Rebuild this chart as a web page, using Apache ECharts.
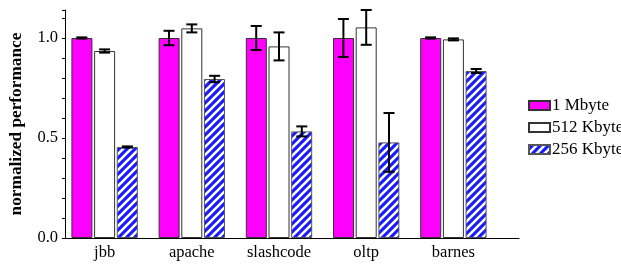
<!DOCTYPE html>
<html>
<head>
    <meta charset="utf-8">
    <title>normalized performance</title>
    <script src="https://cdn.jsdelivr.net/npm/echarts@6/dist/echarts.min.js"></script>
</head>
<body style="margin:0">
    <div id="main" style="width: 621px;height: 265px;"></div>
    <script type="text/javascript">
        // data
        var categories = ['jbb', 'apache', 'slashcode', 'oltp', 'barnes'];
        var seriesNames = ['1 Mbyte', '512 Kbyte', '256 Kbyte'];
        var mb1 = [1.0, 1.0, 1.0, 1.0, 1.0];
        var kb512 = [0.935, 1.048, 0.958, 1.053, 0.993];
        var kb256 = [0.455, 0.795, 0.533, 0.478, 0.835];
        var err1 = [0.003, 0.036, 0.06, 0.095, 0.003];
        var err512 = [0.008, 0.02, 0.07, 0.087, 0.005];
        var err256 = [0.003, 0.016, 0.025, 0.147, 0.01];
        var gridLines = [0.5, 1.0];

        var font = 'Liberation Serif';
        var barW = 21;
        var gapPx = 1.8;

        // diagonal stripe pattern for 256 Kbyte
        var tile = document.createElement('canvas');
        tile.width = 8; tile.height = 8;
        var g = tile.getContext('2d');
        g.fillStyle = '#1a1aff';
        g.fillRect(0, 0, 8, 8);
        g.strokeStyle = '#ffffff';
        g.lineWidth = 2.6;
        g.beginPath();
        g.moveTo(-2, 10); g.lineTo(10, -2);
        g.moveTo(-6, 6); g.lineTo(6, -6);
        g.moveTo(2, 14); g.lineTo(14, 2);
        g.stroke();
        var hatch = { image: tile, repeat: 'repeat' };

        var myChart = echarts.init(document.getElementById('main'));

        function errSeries(vals, errs, idx) {
            return {
                type: 'custom',
                xAxisIndex: 1, yAxisIndex: 1,
                z: 10,
                silent: true,
                data: vals.map(function (v, i) { return [i, v, errs[i]]; }),
                renderItem: function (params, api) {
                    var c = api.value(0), v = api.value(1), e = api.value(2);
                    var off = (idx - 1) * (barW + gapPx);
                    var hi = api.coord([c, v + e]);
                    var lo = api.coord([c, v - e]);
                    var x = hi[0] + off;
                    var cap = 5.5;
                    var st = { stroke: '#000', lineWidth: 2 };
                    return {
                        type: 'group',
                        children: [
                            { type: 'line', shape: { x1: x, y1: hi[1], x2: x, y2: lo[1] }, style: st },
                            { type: 'line', shape: { x1: x - cap, y1: hi[1], x2: x + cap, y2: hi[1] }, style: st },
                            { type: 'line', shape: { x1: x - cap, y1: lo[1], x2: x + cap, y2: lo[1] }, style: st }
                        ]
                    };
                }
            };
        }

        var option = {
            animation: false,
            textStyle: { fontFamily: font },
            grid: [
                { left: 61, right: 102, top: 10, bottom: 27 },
                { left: 61, right: 124, top: 10, bottom: 27 }
            ],
            legend: {
                orient: 'vertical',
                left: 523,
                top: 92,
                icon: 'rect',
                itemWidth: 21,
                itemHeight: 9,
                itemGap: 5,
                data: seriesNames,
                textStyle: { fontFamily: font, fontSize: 17, color: '#000', padding: [0, 0, 0, -3] }
            },
            xAxis: [
                {
                    gridIndex: 0, type: 'value', min: 0, max: 1,
                    axisLine: { show: true, onZero: false, lineStyle: { color: '#000', width: 1.2 } },
                    axisTick: { show: false }, axisLabel: { show: false }, splitLine: { show: false }
                },
                {
                    gridIndex: 1, type: 'category', data: categories,
                    axisLine: { show: false }, axisTick: { show: false },
                    axisLabel: { fontFamily: font, fontSize: 16.5, color: '#000', margin: 6 }
                }
            ],
            yAxis: [
                {
                    gridIndex: 0, type: 'value', min: 0, max: 1.14, interval: 0.1,
                    name: 'normalized performance',
                    nameLocation: 'middle',
                    nameGap: 40,
                    nameTextStyle: { fontFamily: font, fontSize: 17.3, fontWeight: 'bold', color: '#000' },
                    axisLine: { show: true, lineStyle: { color: '#000', width: 1 } },
                    axisTick: { show: true, length: 3, lineStyle: { color: '#000' } },
                    axisLabel: {
                        fontFamily: font, fontSize: 16.5, color: '#000', margin: 7,
                        formatter: function (v) {
                            var r = Math.round(v * 10);
                            return r % 5 === 0 ? (r / 10).toFixed(1) : '';
                        }
                    },
                    splitLine: { show: false }
                },
                {
                    gridIndex: 1, type: 'value', min: 0, max: 1.14,
                    axisLine: { show: false }, axisTick: { show: false },
                    axisLabel: { show: false }, splitLine: { show: false }
                }
            ],
            series: [
                {
                    type: 'line', xAxisIndex: 0, yAxisIndex: 0, data: [],
                    markLine: {
                        silent: true, symbol: 'none', label: { show: false },
                        lineStyle: { color: '#333', width: 1.2, type: 'solid' },
                        data: gridLines.map(function (y) {
                            return [{ coord: [-0.01, y] }, { coord: [1, y] }];
                        })
                    }
                },
                {
                    name: seriesNames[0], type: 'bar', xAxisIndex: 1, yAxisIndex: 1,
                    barWidth: barW, barGap: '8%', z: 3,
                    itemStyle: { color: '#ff00ff', borderColor: '#333', borderWidth: 1 },
                    data: mb1
                },
                {
                    name: seriesNames[1], type: 'bar', xAxisIndex: 1, yAxisIndex: 1,
                    barWidth: barW, barGap: '8%', z: 3,
                    itemStyle: { color: '#ffffff', borderColor: '#333', borderWidth: 1 },
                    data: kb512
                },
                {
                    name: seriesNames[2], type: 'bar', xAxisIndex: 1, yAxisIndex: 1,
                    barWidth: barW, barGap: '8%', z: 3,
                    itemStyle: { color: hatch, borderColor: '#555', borderWidth: 1 },
                    data: kb256
                },
                errSeries(mb1, err1, 0),
                errSeries(kb512, err512, 1),
                errSeries(kb256, err256, 2)
            ]
        };

        myChart.setOption(option);
    </script>
</body>
</html>
